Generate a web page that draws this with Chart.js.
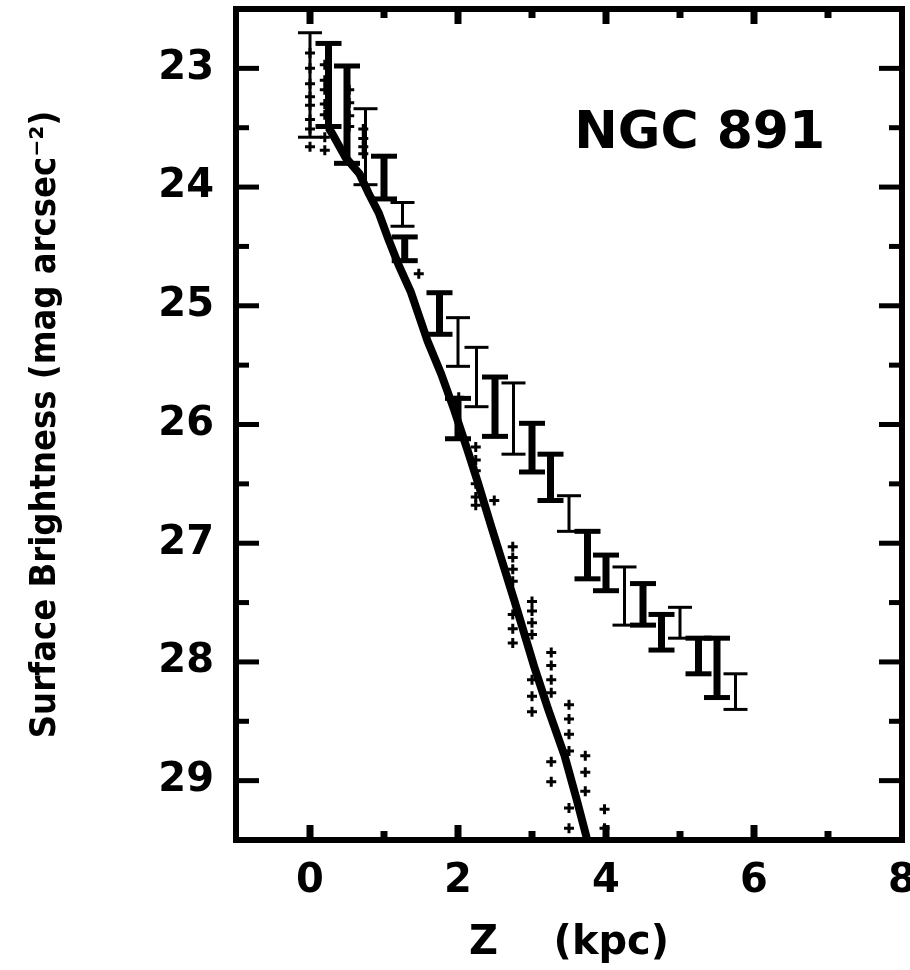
<!DOCTYPE html>
<html>
<head>
<meta charset="utf-8">
<script src="https://cdn.jsdelivr.net/npm/chart.js@4.4.0/dist/chart.umd.min.js"></script>
<style>
  html, body { margin: 0; background: #fff; overflow: hidden; }
  canvas { display: block; margin-top: -9px; }
</style>
</head>
<body>
<canvas id="myChart" width="920" height="979"></canvas>
<script>
// fitted profile (z in kpc, surface brightness in mag/arcsec^2)
const fitZ   = [0.25, 0.30, 0.48, 0.67, 0.79, 0.93, 1.06, 1.20, 1.36, 1.59, 1.77, 1.95, 2.13, 2.27, 2.45, 2.76, 3.03, 3.22, 3.44, 3.60, 3.73, 3.78];
const fitMag = [23.50, 23.55, 23.75, 23.89, 24.05, 24.22, 24.44, 24.66, 24.88, 25.30, 25.57, 25.88, 26.22, 26.49, 26.86, 27.48, 28.04, 28.40, 28.79, 29.15, 29.46, 29.60];

// error bars, bold set
const thickZ  = [0.25, 0.50, 1.00, 1.28, 1.75, 2.00, 2.50, 3.00, 3.25, 3.75, 4.00, 4.50, 4.75, 5.25, 5.50];
const thickLo = [22.79, 22.98, 23.74, 24.42, 24.89, 25.78, 25.60, 25.99, 26.25, 26.90, 27.10, 27.34, 27.60, 27.80, 27.80];
const thickHi = [23.49, 23.80, 24.10, 24.62, 25.24, 26.12, 26.10, 26.40, 26.64, 27.30, 27.40, 27.69, 27.90, 28.10, 28.30];

// error bars, thin set
const thinZ  = [0.00, 0.75, 1.25, 2.00, 2.25, 2.75, 3.50, 4.25, 5.00, 5.75];
const thinLo = [22.70, 23.34, 24.13, 25.10, 25.35, 25.65, 26.60, 27.20, 27.54, 28.10];
const thinHi = [23.58, 23.98, 24.33, 25.51, 25.85, 26.25, 26.90, 27.69, 27.80, 28.40];

// individual measurements
const ptZ = [
  0.00, 0.00, 0.00, 0.00, 0.00, 0.00, 0.00, 0.00,
  0.20, 0.20, 0.20, 0.20, 0.20, 0.20, 0.20,
  0.53, 0.53, 0.53, 0.53,
  0.72, 0.72, 0.72, 0.72,
  1.47, 2.01,
  2.24, 2.24, 2.24, 2.24, 2.24, 2.24,
  2.49,
  2.74, 2.74, 2.74, 2.74, 2.74, 2.74, 2.74,
  3.00, 3.00, 3.00, 3.00, 3.00, 3.00, 3.00,
  3.26, 3.26, 3.26, 3.26, 3.26, 3.26,
  3.50, 3.50, 3.50, 3.50, 3.50, 3.50,
  3.72, 3.72, 3.72,
  3.98, 3.98
];
const ptMag = [
  22.87, 23.00, 23.13, 23.24, 23.31, 23.43, 23.51, 23.66,
  22.97, 23.10, 23.18, 23.30, 23.39, 23.58, 23.69,
  23.18, 23.29, 23.40, 23.49,
  23.51, 23.59, 23.66, 23.72,
  24.73, 25.77,
  26.19, 26.30, 26.39, 26.50, 26.61, 26.68,
  26.64,
  27.03, 27.12, 27.22, 27.32, 27.60, 27.72, 27.84,
  27.49, 27.57, 27.67, 27.77, 28.15, 28.29, 28.42,
  27.92, 28.03, 28.15, 28.26, 28.84, 29.01,
  28.36, 28.48, 28.61, 28.75, 29.23, 29.40,
  28.79, 28.93, 29.09,
  29.24, 29.40
];

// tick labels
const xTicks = [0, 2, 4, 6, 8];
const yTicks = [23, 24, 25, 26, 27, 28, 29];

const galaxyName = 'NGC 891';

// each bar: low point, high point, then a gap
function barPoints(z, lo, hi) {
  const out = [];
  z.forEach((v, i) => {
    out.push({ x: v, y: lo[i] });
    out.push({ x: v, y: hi[i] });
    out.push({ x: v, y: null });
  });
  return out;
}

const tickFont = { family: '"DejaVu Sans", sans-serif', weight: 'bold', size: 40 };

// box round the plot with inward ticks, plus the galaxy label
const framePlugin = {
  id: 'frame',
  afterDatasetsDraw(chart) {
    const { ctx, chartArea: a, scales: { x, y } } = chart;
    ctx.save();
    ctx.strokeStyle = '#000';
    ctx.fillStyle = '#000';
    ctx.lineWidth = 6;
    ctx.strokeRect(a.left, a.top, a.right - a.left, a.bottom - a.top);

    const seg = (x1, y1, x2, y2) => {
      ctx.beginPath();
      ctx.moveTo(x1, y1);
      ctx.lineTo(x2, y2);
      ctx.stroke();
    };

    ctx.lineWidth = 7;
    for (let v = Math.ceil(x.min); v < x.max; v++) {
      if (v === x.min) continue;
      const px = x.getPixelForValue(v);
      const len = v % 2 === 0 ? 15 : 9;
      seg(px, a.bottom, px, a.bottom - len);
      seg(px, a.top, px, a.top + len);
    }

    ctx.lineWidth = 5;
    for (let v = Math.ceil(y.min * 2) / 2; v < y.max; v += 0.5) {
      if (v === y.min) continue;
      const py = y.getPixelForValue(v);
      const len = Number.isInteger(v) ? 23 : 13;
      seg(a.left, py, a.left + len, py);
      seg(a.right, py, a.right - len, py);
    }

    ctx.font = 'bold 52px "DejaVu Sans", sans-serif';
    ctx.textBaseline = 'alphabetic';
    ctx.textAlign = 'left';
    ctx.fillText(galaxyName, x.getPixelForValue(3.57), y.getPixelForValue(23.67));
    ctx.restore();
  }
};

const ctx = document.getElementById('myChart').getContext('2d');
const myChart = new Chart(ctx, {
  type: 'scatter',
  data: {
    datasets: [
      {
        data: barPoints(thinZ, thinLo, thinHi),
        showLine: true,
        spanGaps: false,
        borderColor: '#000',
        borderWidth: 3,
        pointStyle: 'line',
        pointRadius: 12,
        pointBorderWidth: 3,
        pointBorderColor: '#000'
      },
      {
        data: barPoints(thickZ, thickLo, thickHi),
        showLine: true,
        spanGaps: false,
        borderColor: '#000',
        borderWidth: 7,
        pointStyle: 'line',
        pointRadius: 13,
        pointBorderWidth: 5,
        pointBorderColor: '#000'
      },
      {
        data: fitZ.map((z, i) => ({ x: z, y: fitMag[i] })),
        showLine: true,
        borderColor: '#000',
        borderWidth: 8,
        pointRadius: 0
      },
      {
        data: ptZ.map((z, i) => ({ x: z, y: ptMag[i] })),
        pointStyle: 'cross',
        pointRadius: 5,
        pointBorderWidth: 3,
        pointBorderColor: '#000'
      }
    ]
  },
  plugins: [framePlugin],
  options: {
    responsive: false,
    animation: false,
    layout: { padding: { top: 8, right: 10, left: 0, bottom: 0 } },
    plugins: {
      legend: { display: false },
      tooltip: { enabled: false }
    },
    scales: {
      x: {
        type: 'linear',
        min: -1,
        max: 8,
        grid: { display: false, drawTicks: false },
        border: { display: false },
        ticks: { color: '#000', font: tickFont, padding: 18, maxRotation: 0 },
        afterBuildTicks(s) { s.ticks = xTicks.map(v => ({ value: v })); },
        title: {
          display: true,
          text: 'Z    (kpc)',
          color: '#000',
          font: { family: '"DejaVu Sans", sans-serif', weight: 'bold', size: 40, lineHeight: 1.2 },
          padding: { top: 0, bottom: 2 }
        },
        afterFit(s) { s.height = 130; s.paddingLeft = 0; s.paddingRight = 0; }
      },
      y: {
        type: 'linear',
        reverse: true,
        min: 22.5,
        max: 29.5,
        grid: { display: false, drawTicks: false },
        border: { display: false },
        ticks: { color: '#000', font: tickFont, padding: 22 },
        afterBuildTicks(s) { s.ticks = yTicks.map(v => ({ value: v })); },
        title: {
          display: true,
          text: 'Surface Brightness (mag arcsec\u207B\u00B2)',
          color: '#000',
          font: { family: '"DejaVu Sans Condensed", "Liberation Sans Narrow", "DejaVu Sans", sans-serif', weight: 'bold', size: 36, lineHeight: 1.2 },
          padding: { top: 24, bottom: 0 }
        },
        afterFit(s) { s.width = 236; s.paddingTop = 0; s.paddingBottom = 0; }
      }
    }
  }
});
</script>
</body>
</html>
